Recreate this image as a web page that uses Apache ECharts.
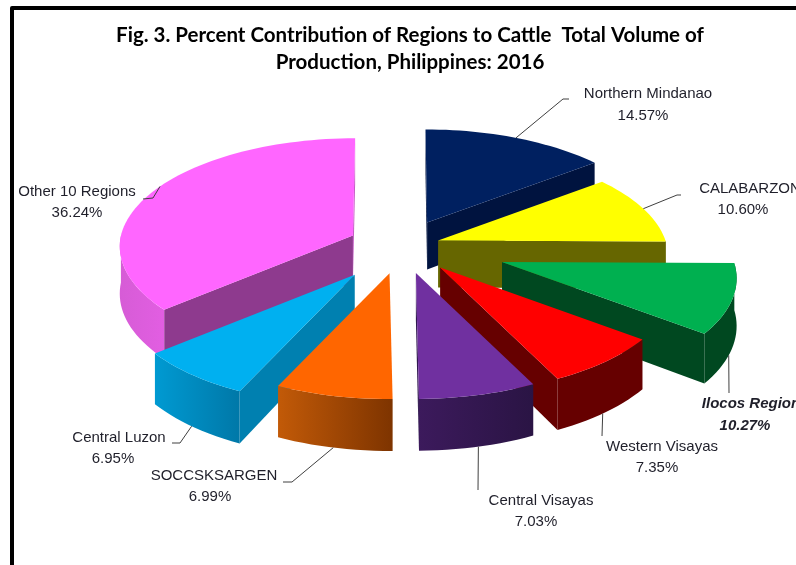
<!DOCTYPE html>
<html>
<head>
<meta charset="utf-8">
<title>Cattle production by region</title>
<style>
  html, body { margin: 0; padding: 0; background: #fff; }
  #chart { width: 796px; height: 565px; }
</style>
<script src="https://cdn.jsdelivr.net/npm/echarts@6/dist/echarts.min.js"></script>
</head>
<body>
<div id="chart"></div>
<script>
// chart data, clockwise from 12 o'clock
var regions = ['Northern Mindanao', 'CALABARZON', 'Ilocos Region', 'Western Visayas',
    'Central Visayas', 'SOCCSKSARGEN', 'Central Luzon', 'Other 10 Regions'];
var shares = [14.57, 10.60, 10.27, 7.35, 7.03, 6.99, 6.95, 36.24];

// look of each slice, same order as regions
var explode = [0.245, 0.164, 0.456, 0.26, 0.26, 0.26, 0.338, 0.233];
var radius = [1, 0.98, 1, 1, 1, 1, 1, 1];
var persp = [0.15, 0.15, 0.15, 0.15, 0.15, 0.15, 0.18, 0.1];
var topColors = ['#002060', '#ffff00', '#00b050', '#ff0000', '#7030a0', '#ff6600', '#00b0f0', '#ff66ff'];
var startFace = ['#00133f', '#666600', '#004820', '#660000', '#30184f', '#803000', '#0080b0', '#8e3a8e'];
var endFace = ['#00133f', '#666600', '#004820', '#660000', '#30184f', '#803000', '#0080b0', '#c65cc6'];
var wallLeft = ['#00133f', '#666600', '#004820', '#660000', '#3c1a5c', '#c25a08', '#009ad2', '#d65cd6'];
var wallRight = ['#00133f', '#666600', '#004820', '#660000', '#2a1444', '#7e3400', '#0078a8', '#e25ee2'];

// leader lines: degrees off the slice middle, then the bends
var leaderTilt = [0, 0, 4, 1, 0, 0, 0, 4];
var leaderBends = [[[563, 99], [569, 99]], [[677, 195], [681, 195]], [[729, 393]], [[602, 436]],
    [[478, 490]], [[292, 482], [283, 482]], [[180, 443], [172, 443]], [[153, 198], [143, 199]]];
// label centres, [nameX, nameY, valueX, valueY]
var labelPos = [[648, 94, 643, 116], [750, 189, 743, 210], [751, 404, 745, 426], [662, 447, 657, 468],
    [541, 501, 536, 522], [214, 476, 210, 497], [119, 438, 113, 459], [77, 192, 77, 213]];

var CX = 402, CY = 246, RX = 232, RY = 107, DEPTH = 47;
var RAD = Math.PI / 180;

var total = shares.reduce(function (a, b) { return a + b; }, 0);
var slices = [];
var acc = 0;
shares.forEach(function (v, i) {
    var start = acc / total * 360;
    acc += v;
    slices.push({ index: i, start: start, end: acc / total * 360, mid: (start + acc / total * 360) / 2 });
});
// back slices get painted first
var order = slices.slice().sort(function (a, b) {
    return Math.cos(b.mid * RAD) - Math.cos(a.mid * RAD);
});

function project(s, r, deg, bottom) {
    var e = explode[s.index];
    var ox = e * Math.sin(s.mid * RAD);
    var oz = e * Math.cos(s.mid * RAD);
    var x = r * radius[s.index] * Math.sin(deg * RAD);
    var z = r * radius[s.index] * Math.cos(deg * RAD);
    var f = 1 / (1 + persp[s.index] * z);
    var lean = z > 0 ? ox * (f - 1) * 0.5 : 0;
    return [
        CX + RX * (ox + x * f + lean),
        CY - RY * (oz + z * f) + (bottom ? DEPTH * Math.pow(f, 0.6) : 0)
    ];
}

function arc(s, from, to, bottom) {
    var pts = [];
    var n = Math.max(2, Math.ceil((to - from) / 2));
    for (var i = 0; i <= n; i++) {
        pts.push(project(s, 1, from + (to - from) * i / n, bottom));
    }
    return pts;
}

function area(p) {
    var sum = 0;
    p.forEach(function (a, i) {
        var b = p[(i + 1) % p.length];
        sum += a[0] * b[1] - b[0] * a[1];
    });
    return sum;
}

function poly(points, fill) {
    return { type: 'polygon', shape: { points: points }, style: { fill: fill } };
}

function renderSlice(params) {
    var s = order[params.dataIndex];
    var i = s.index;
    var kids = [];

    // the two cut faces, only where they turn towards the viewer
    var startQuad = [project(s, 0, 0), project(s, 1, s.start), project(s, 1, s.start, true), project(s, 0, 0, true)];
    var endQuad = [project(s, 0, 0), project(s, 1, s.end), project(s, 1, s.end, true), project(s, 0, 0, true)];
    if (area(startQuad) < 0) kids.push(poly(startQuad, startFace[i]));
    if (area(endQuad) > 0) kids.push(poly(endQuad, endFace[i]));

    // outer wall, front half only
    var from = Math.max(s.start, 90);
    var to = Math.min(s.end, 270);
    if (to > from) {
        kids.push(poly(arc(s, from, to).concat(arc(s, from, to, true).reverse()), {
            type: 'linear', x: 0, y: 0, x2: 1, y2: 0,
            colorStops: [{ offset: 0, color: wallLeft[i] }, { offset: 1, color: wallRight[i] }]
        }));
    }

    kids.push(poly([project(s, 0, 0)].concat(arc(s, s.start, s.end)), topColors[i]));

    // leader line starts on the slice edge near its middle angle
    var front = Math.cos(s.mid * RAD) < 0;
    kids.push({
        type: 'polyline',
        z2: 50,
        shape: { points: [project(s, 1, s.mid + leaderTilt[i], front)].concat(leaderBends[i]) },
        style: { fill: null, stroke: '#404040', lineWidth: 1 }
    });

    var isIlocos = regions[i] === 'Ilocos Region';
    var font = {
        fill: '#1f1f2a', fontSize: 15, fontFamily: '"Liberation Sans", Arial, sans-serif',
        fontWeight: isIlocos ? 'bold' : 'normal', fontStyle: isIlocos ? 'italic' : 'normal',
        align: 'center', verticalAlign: 'middle'
    };
    var lp = labelPos[i];
    kids.push({ type: 'text', z2: 60, style: Object.assign({ x: lp[0], y: lp[1], text: regions[i] }, font) });
    kids.push({ type: 'text', z2: 60, style: Object.assign({ x: lp[2], y: lp[3], text: shares[i].toFixed(2) + '%' }, font) });

    return { type: 'group', children: kids };
}

var myChart = echarts.init(document.getElementById('chart'), null, { renderer: 'canvas' });
var option = {
    animation: false,
    backgroundColor: '#fff',
    title: {
        text: 'Fig. 3. Percent Contribution of Regions to Cattle  Total Volume of\nProduction, Philippines: 2016',
        left: 405,
        top: 17,
        textAlign: 'center',
        textStyle: { fontFamily: 'Lato, "Noto Sans", sans-serif', fontWeight: 'bold', fontSize: 20.5, lineHeight: 27, color: '#000' }
    },
    graphic: [{
        type: 'polyline',
        shape: { points: [[12, 565], [12, 8], [796, 8]] },
        style: { fill: null, stroke: '#000', lineWidth: 4, lineJoin: 'round' }
    }],
    series: [{
        type: 'custom',
        coordinateSystem: 'none',
        silent: true,
        clip: false,
        renderItem: renderSlice,
        data: order.map(function (s) { return shares[s.index]; })
    }]
};
myChart.setOption(option);
</script>
</body>
</html>
